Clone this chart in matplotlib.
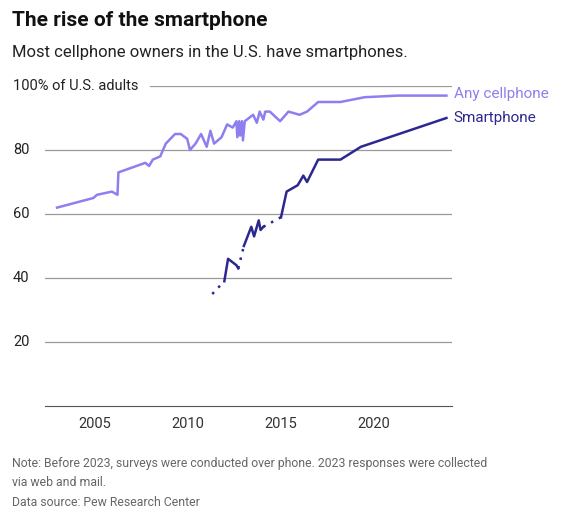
import matplotlib
matplotlib.use("Agg")
import matplotlib.pyplot as plt
import numpy as np

plt.rcParams['font.family'] = ['Roboto', 'DejaVu Sans']

any_x = [2002.95, 2004.9, 2005.1, 2005.9, 2006.2, 2006.25, 2007.7, 2007.9, 2008.1, 2008.5, 2008.8,
         2009.3, 2009.6, 2009.95, 2010.1, 2010.4, 2010.7, 2011.0, 2011.2, 2011.4, 2011.8, 2012.1,
         2012.4, 2012.6, 2012.65, 2012.75, 2012.8, 2012.9, 2012.95, 2013.05, 2013.5, 2013.7,
         2013.85, 2014.05, 2014.15, 2014.4, 2014.95, 2015.4, 2016.0, 2016.4, 2017.0, 2018.2,
         2019.5, 2021.3, 2023.9]
any_y = [62, 65, 66, 67, 66, 73, 76, 75, 77, 78, 82,
         85, 85, 83.5, 80, 82, 85, 81, 86, 82, 84, 88,
         87, 89, 84, 89, 84.5, 89, 83, 89, 91, 88.5,
         92, 89.5, 92, 92, 89, 92, 91, 92, 95, 95,
         96.5, 97, 97]

smart_x = [2011.3, 2011.95, 2012.15, 2012.6, 2012.7, 2013.0, 2013.4, 2013.55, 2013.8, 2013.9, 2014.05,
           2015.0, 2015.3, 2015.9, 2016.2, 2016.4, 2017.0, 2018.2, 2019.3, 2023.9]
smart_y = [35, 39, 46, 44, 43, 50, 56, 53, 58, 55, 56,
           59, 67, 69, 72, 70, 77, 77, 81, 90]
# survey segments (indices into smart_x) drawn solid; gaps between them dotted
smart_segments = [(1, 4), (5, 10), (11, 19)]

yticks = [20, 40, 60, 80, 100]
xticks = [2005, 2010, 2015, 2020]

c_any = '#8e7ff0'
c_smart = '#2c2890'

fig = plt.figure(figsize=(5.75, 5.21), dpi=100)
W, H = 575, 521
ax = fig.add_axes([45/W, 1-406/H, (452-45)/W, (406-86)/H])
ax.set_xlim(2002.3, 2024.2)
ax.set_ylim(0, 100)
for t in yticks:
    xs = 0.0 if t != 100 else (150-45)/(452-45)
    ax.axhline(t, xmin=xs, color='#9a9a9a', lw=0.9, zorder=0)
    lab = f"{t}" if t != 100 else "100% of U.S. adults"
    ax.text(-32/(452-45), t, lab, transform=ax.get_yaxis_transform(), ha='left', va='center',
            fontsize=10.5, color='#222222')
ax.set_yticks([])
ax.set_xticks(xticks)
ax.set_xticklabels([str(x) for x in xticks], fontsize=10.5, color='#333333')
ax.tick_params(axis='x', length=0, pad=8)
for s in ['top', 'right', 'left']:
    ax.spines[s].set_visible(False)
ax.spines['bottom'].set_color('#555555')

ax.plot(any_x, any_y, color=c_any, lw=1.8, clip_on=False)
sx = np.array(smart_x); sy = np.array(smart_y)
prev_end = 0
for a, b in smart_segments:
    ax.plot(sx[prev_end:a+1], sy[prev_end:a+1], color=c_smart, lw=1.8, ls=(0, (1, 2.5)), clip_on=False)
    ax.plot(sx[a:b+1], sy[a:b+1], color=c_smart, lw=1.8, clip_on=False)
    prev_end = b
ax.text(2024.3, any_y[-1] + 0.5, 'Any cellphone', color=c_any, fontsize=11, va='center', ha='left')
ax.text(2024.3, smart_y[-1], 'Smartphone', color=c_smart, fontsize=11, va='center', ha='left')

fig.text(12/W, 1-20/H, 'The rise of the smartphone', fontsize=15, fontweight='bold', va='center', color='#111111')
fig.text(12/W, 1-52/H, 'Most cellphone owners in the U.S. have smartphones.', fontsize=12, va='center', color='#222222')
fig.text(12/W, 1-473/H, 'Note: Before 2023, surveys were conducted over phone. 2023 responses were collected\nvia web and mail.',
         fontsize=8.8, va='center', color='#666666', linespacing=1.5)
fig.text(12/W, 1-502/H, 'Data source: Pew Research Center', fontsize=8.8, va='center', color='#666666')
fig.savefig('out.png', dpi=100)
